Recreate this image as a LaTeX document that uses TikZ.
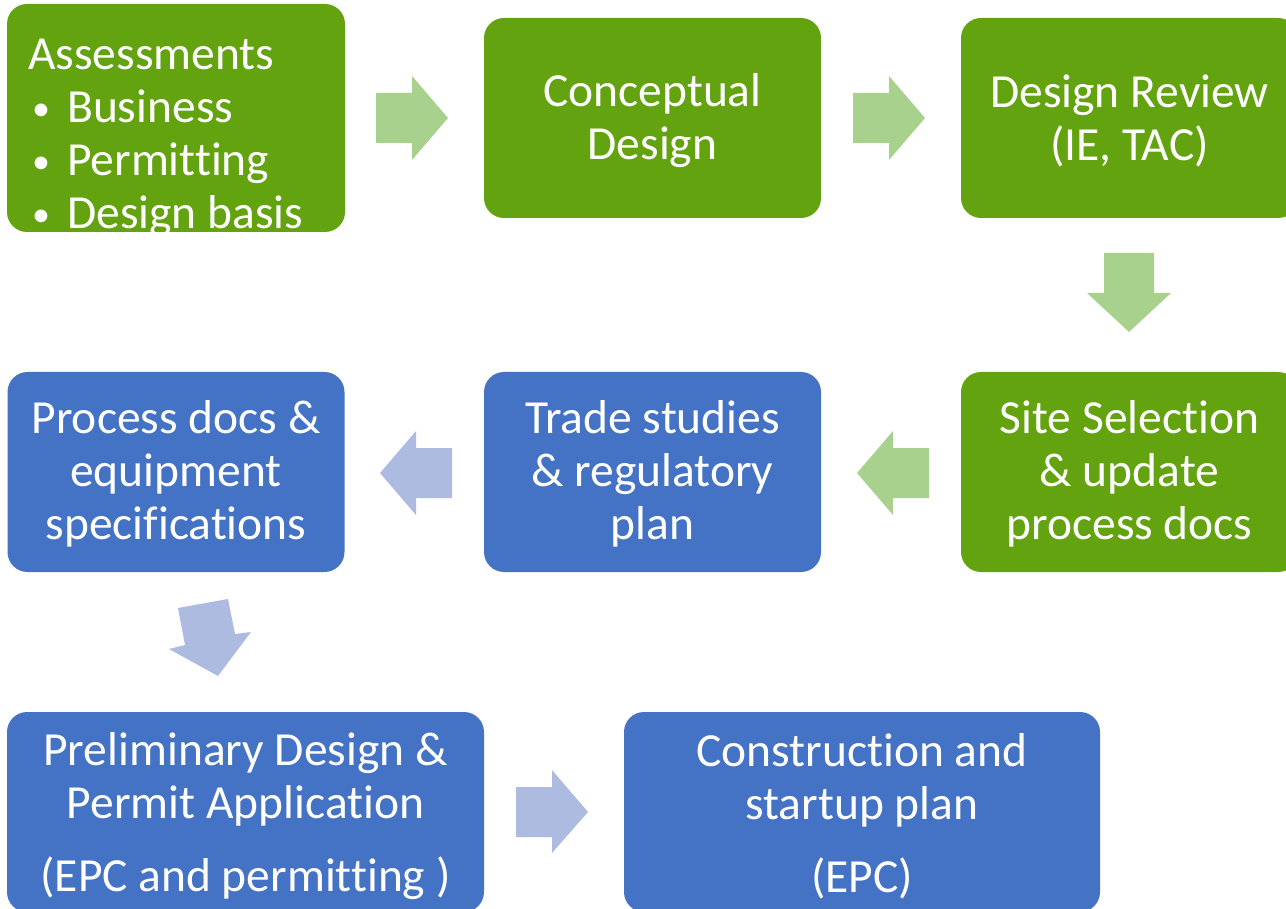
\documentclass[tikz,border=0pt]{standalone}
\usepackage{fontspec}
\setmainfont[Ligatures={NoCommon}]{Carlito}
\definecolor{boxgreen}{HTML}{62A30F}
\definecolor{boxblue}{HTML}{4472C4}
\definecolor{argreen}{HTML}{A9D18E}
\definecolor{arblue}{HTML}{AEBBE0}
\newcommand{\topstrut}[1]{\rule{0pt}{#1}}
\newcommand{\smbullet}{\hspace*{4pt}\makebox[35pt][l]{\raisebox{2pt}{\fontsize{36}{36}\selectfont•}}}
\tikzset{
  stagebox/.style={rectangle, rounded corners=20pt, minimum width=337pt, minimum height=200pt,
    inner sep=0pt, text=white, align=center, font=\fontsize{47.5}{53}\selectfont},
  greenbox/.style={stagebox, fill=boxgreen},
  bluebox/.style={stagebox, fill=boxblue},
  garrow/.style={fill=argreen},
  barrow/.style={fill=arblue}
}
\begin{document}
\begin{tikzpicture}[x=1pt,y=-1pt]
\useasboundingbox (0,0) rectangle (1286,909);
\clip (0,0) rectangle (1286,909);
% row 1
\node[greenbox, minimum width=338pt, minimum height=228pt] (assess) at (176,118) {};
\node[anchor=base west, inner sep=0pt, text=white, align=left, font=\fontsize{47.5}{53}\selectfont] (assesstext) at (28,229)
  {Assessments\\\smbullet Business\\\smbullet Permitting\\\smbullet Design basis};
\node[greenbox] (concept) at (652.5,118) {\topstrut{38pt}Conceptual\\Design};
\node[greenbox] (review) at (1129.5,118) {\topstrut{38pt}Design Review\\(IE, TAC)};
% row 2
\node[greenbox] (site) at (1129.5,472) {\topstrut{37pt}Site Selection\\\& update\\process docs};
\node[bluebox] (trade) at (652.5,472) {\topstrut{37pt}Trade studies\\\& regulatory\\plan};
\node[bluebox] (process) at (176,472) {\topstrut{37pt}Process docs \&\\equipment\\specifications};
% row 3
\node[bluebox, minimum width=477pt] (prelim) at (245.5,812) {\topstrut{41pt}Preliminary Design \&\\Permit Application\\[20pt](EPC and permitting )};
\node[bluebox, minimum width=476pt] (constr) at (862,812) {\topstrut{41pt}Construction and\\startup plan\\[20pt](EPC)};
% block arrows
\fill[garrow] (376,93) -- (412,93) -- (412,76) -- (448,118) -- (412,160) -- (412,143) -- (376,143) -- cycle;
\fill[garrow] (853,93) -- (889,93) -- (889,76) -- (925,118) -- (889,160) -- (889,143) -- (853,143) -- cycle;
\fill[garrow] (1104,253) -- (1154,253) -- (1154,293) -- (1171,293) -- (1129,332) -- (1087,293) -- (1104,293) -- cycle;
\fill[garrow] (929,448) -- (893,448) -- (893,431) -- (857,473) -- (893,515) -- (893,498) -- (929,498) -- cycle;
\fill[barrow] (452,448) -- (416,448) -- (416,431) -- (380,473) -- (416,515) -- (416,498) -- (452,498) -- cycle;
\fill[barrow] (178,608) -- (228,599) -- (235,634) -- (251,632) -- (218,676) -- (169,649) -- (185,645) -- cycle;
\fill[barrow] (516,787) -- (552,787) -- (552,770) -- (588,812) -- (552,853) -- (552,837) -- (516,837) -- cycle;
\end{tikzpicture}
\end{document}
